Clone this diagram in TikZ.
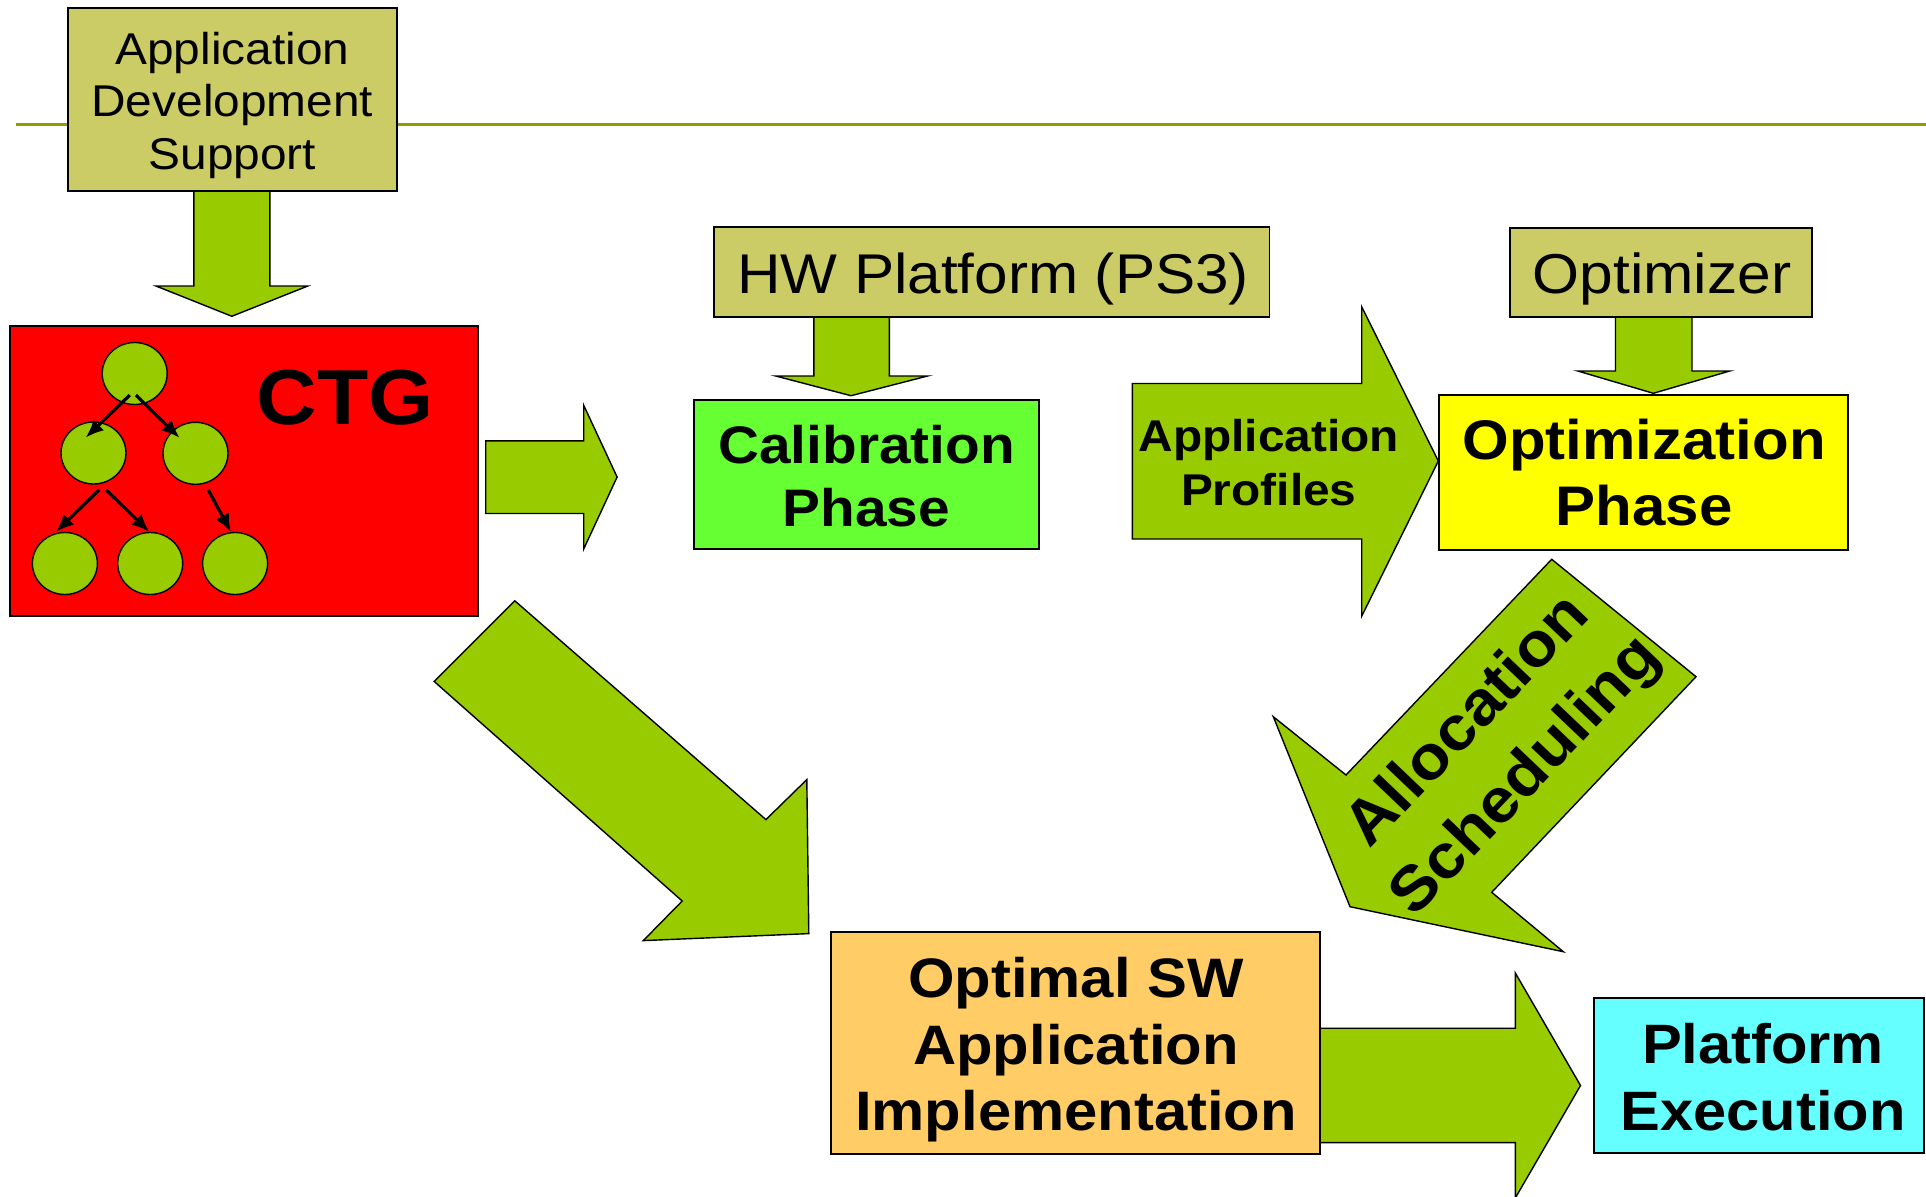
\documentclass[tikz,border=0pt]{standalone}
\usepackage{fontspec}
\setmainfont{Liberation Sans}[FakeStretch=1.075]
\usetikzlibrary{arrows.meta,shapes.geometric,calc}

\definecolor{rulecol}{RGB}{153,153,0}
\definecolor{tancol}{RGB}{204,204,102}
\definecolor{leafgreen}{RGB}{153,204,0}
\definecolor{ctgred}{RGB}{255,0,0}
\definecolor{calgreen}{RGB}{102,255,51}
\definecolor{optyellow}{RGB}{255,255,0}
\definecolor{implorange}{RGB}{255,204,102}
\definecolor{execcyan}{RGB}{102,255,255}

\tikzset{
  box/.style={rectangle, draw=black, line width=1.8pt, inner sep=0pt},
  blockarrow/.style={draw=black, line width=1.4pt, fill=leafgreen, line join=miter},
  tasknode/.style={ellipse, draw=black, line width=1.4pt, fill=leafgreen,
    minimum width=65pt, minimum height=62pt, inner sep=0pt},
  treearrow/.style={line width=3.2pt, -{Latex[length=18pt,width=15pt]}},
  txt/.style={anchor=base, inner sep=0pt, text=black},
}
\newcommand{\lines}[1]{\begin{tabular}[t]{@{}c@{}}#1\end{tabular}}

\begin{document}
\begin{tikzpicture}[x=1pt,y=-1pt]
\useasboundingbox (0,0) rectangle (1926,1196);
\fill[white] (0,0) rectangle (1926,1196);

% header rule
\draw[rulecol, line width=3.3pt] (16,124.5) -- (1926,124.5);

% block arrows
\draw[blockarrow] (193.9,190.6) -- (269.8,190.6) -- (269.8,286) -- (307.8,286)
  -- (231.8,316.3) -- (156,286) -- (193.9,286) -- cycle;
\draw[blockarrow] (813.9,316.8) -- (889.3,316.8) -- (889.3,376) -- (927.6,376)
  -- (851,395.7) -- (775.7,376) -- (813.9,376) -- cycle;
\draw[blockarrow] (1615.5,317) -- (1692,317) -- (1692,371) -- (1729.7,371)
  -- (1653.3,393.3) -- (1577.8,371) -- (1615.5,371) -- cycle;
\draw[blockarrow] (485.7,440.8) -- (583.7,440.8) -- (583.7,405.3) -- (617.1,477)
  -- (583.7,549) -- (583.7,513.5) -- (485.7,513.5) -- cycle;
\draw[blockarrow] (1132.3,383.5) -- (1361.7,383.5) -- (1361.7,306.8) -- (1438.3,461)
  -- (1361.7,616.2) -- (1361.7,539) -- (1132.3,539) -- cycle;
\draw[blockarrow] (514.8,600.8) -- (434.1,681.4) -- (682.2,901) -- (643.3,940.6)
  -- (808.8,933.6) -- (806.8,779.6) -- (765.9,819.6) -- cycle;
\draw[blockarrow] (1551.7,559.3) -- (1696,676.7) -- (1491.7,892.3) -- (1563.3,951.7)
  -- (1350,906.7) -- (1273.3,716.7) -- (1346,775) -- cycle;
\draw[blockarrow] (1319.7,1028.2) -- (1515.3,1028.2) -- (1515.3,973) -- (1580.5,1085.5)
  -- (1515.3,1198) -- (1515.3,1142.6) -- (1319.7,1142.6) -- cycle;

% boxes
\node[box, fill=tancol, minimum width=328.9pt, minimum height=182.4pt] (ads) at (232.25,99.4) {};
\node[box, fill=ctgred, minimum width=468.2pt, minimum height=290.3pt] (ctg) at (243.9,471.15) {};
\node[box, fill=tancol, minimum width=555.5pt, minimum height=89.6pt] (hw) at (991.75,272) {};
\node[box, fill=calgreen, minimum width=344.4pt, minimum height=148.7pt] (calib) at (866.4,474.65) {};
\node[box, fill=tancol, minimum width=302.3pt, minimum height=88.7pt] (optimizer) at (1660.85,272.65) {};
\node[box, fill=optyellow, minimum width=409pt, minimum height=155pt] (optphase) at (1643.8,472.5) {};
\node[box, fill=implorange, minimum width=489pt, minimum height=222pt] (impl) at (1075.5,1043.3) {};
\node[box, fill=execcyan, minimum width=330.3pt, minimum height=155pt] (exec) at (1759.15,1075.8) {};

% task graph
\node[tasknode] (c0) at (134.7,373.5) {};
\node[tasknode] (c1) at (93.5,453) {};
\node[tasknode] (c2) at (195.5,453.3) {};
\node[tasknode] (c3) at (64.9,563.5) {};
\node[tasknode] (c4) at (150.2,563.5) {};
\node[tasknode] (c5) at (235.1,563.5) {};
\draw[treearrow] ($(c0)+(-4.9,21.6)$) -- ($(c1)+(-7.8,-15.4)$);
\draw[treearrow] ($(c0)+(1.2,21.6)$) -- ($(c2)+(-15.9,-15.4)$);
\draw[treearrow] ($(c1)+(5.7,36.8)$) -- ($(c3)+(-9,-31.5)$);
\draw[treearrow] ($(c1)+(12.6,36.8)$) -- ($(c4)+(-0.8,-31.5)$);
\draw[treearrow] ($(c2)+(12.7,36.5)$) -- ($(c5)+(-4.1,-31.5)$);

% texts
\node[txt, font=\fontsize{44.5}{52.5}\selectfont] (ads-text) at (232.3,64.5)
  {\lines{Application\\Development\\Support}};
\node[txt, font=\bfseries\fontsize{78}{90}\selectfont] (ctg-text) at (345.1,424.5) {CTG};
\node[txt, font=\fontsize{56}{64}\selectfont] (hw-text) at (993,293) {HW Platform (PS3)};
\node[txt, font=\fontsize{56.2}{64}\selectfont] (optimizer-text) at (1662,293) {Optimizer};
\node[txt, font=\bfseries\fontsize{52.8}{62.7}\selectfont] (calib-text) at (866.5,463.3)
  {\lines{Calibration\\Phase}};
\node[txt, font=\bfseries\fontsize{55.8}{66}\selectfont] (optphase-text) at (1644,459)
  {\lines{Optimization\\Phase}};
\node[txt, font=\bfseries\fontsize{44.5}{54}\selectfont] (profiles-text) at (1268.8,451)
  {\lines{Application\\Profiles}};
\node[txt, font=\bfseries\fontsize{55.6}{66.75}\selectfont] (impl-text) at (1076,997.3)
  {\lines{Optimal SW\\Application\\Implementation}};
\node[txt, font=\bfseries\fontsize{55.5}{66.7}\selectfont] (exec-text) at (1763,1063.3)
  {\lines{Platform\\Execution}};
\node[txt, rotate=46.4, font=\bfseries\fontsize{62}{80}\selectfont] (alloc-text) at (1480.8,733.3)
  {\lines{Allocation\\Scheduling}};
\end{tikzpicture}
\end{document}
